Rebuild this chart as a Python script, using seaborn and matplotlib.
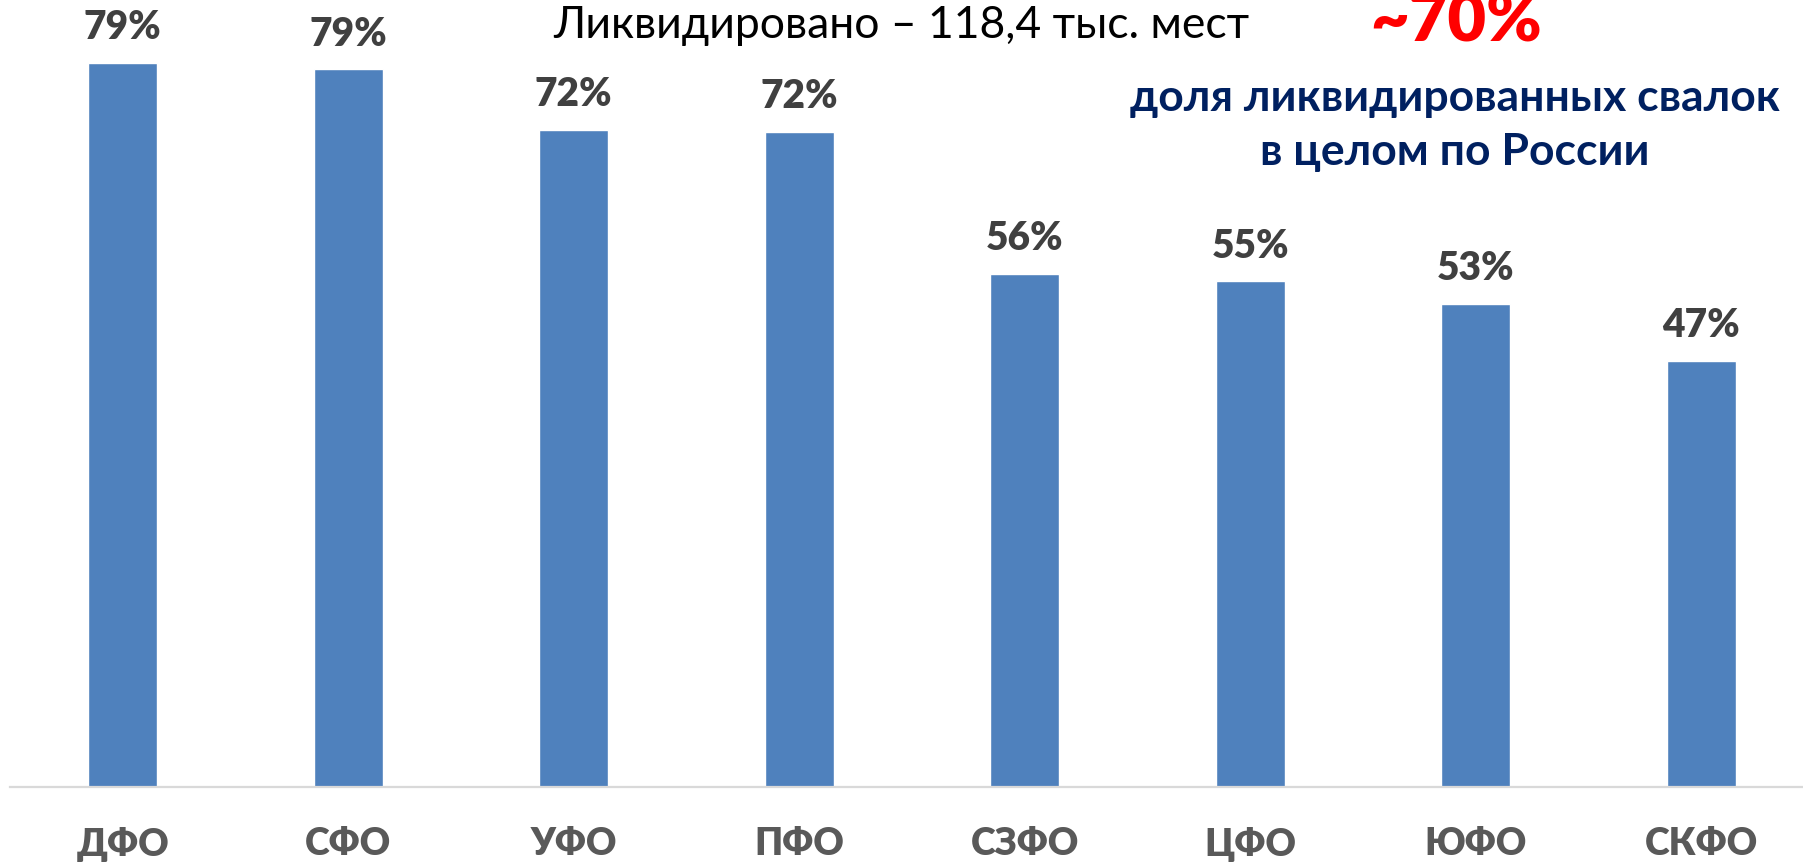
import matplotlib
matplotlib.use("Agg")
import matplotlib.pyplot as plt
import seaborn as sns
import pandas as pd

# данные (доля ликвидированных свалок по федеральным округам)
regions = ["ДФО", "СФО", "УФО", "ПФО", "СЗФО", "ЦФО", "ЮФО", "СКФО"]
shares = [79.3, 78.6, 72.0, 71.8, 56.2, 55.4, 52.9, 46.7]
share_labels = ["79%", "79%", "72%", "72%", "56%", "55%", "53%", "47%"]

title_text = "Ликвидировано – 118,4 тыс. мест"
total_text = "~70%"
note_lines = ["доля ликвидированных свалок", "в целом по России"]

sns.set_style("white")
plt.rcParams['font.family'] = ['Lato', 'DejaVu Sans']

df = pd.DataFrame({"region": regions, "share": shares})

fig = plt.figure(figsize=(18.03, 8.63), dpi=100)
ax = fig.add_axes([10 / 1803, 76 / 863, 1804 / 1803, 776 / 863])

sns.barplot(data=df, x="region", y="share", color="#4f81bd", saturation=1,
            width=0.306, ax=ax)
ax.set_ylim(0, 85)
ax.set_xlim(-0.5, 7.5)

ax.bar_label(ax.containers[0], labels=share_labels, padding=12,
             fontsize=28, fontweight="heavy", color="#404040")

# оси
for s in ["top", "right", "left"]:
    ax.spines[s].set_visible(False)
ax.spines["bottom"].set_color("#d9d9d9")
ax.spines["bottom"].set_linewidth(1.6)
ax.set_yticks([])
ax.set_xlabel("")
ax.set_ylabel("")
ax.tick_params(axis="x", length=0, pad=29, labelsize=27, labelcolor="#595959")
for t in ax.get_xticklabels():
    t.set_fontweight("heavy")

# подписи сверху (красная цифра в оригинале срезана верхним краем)
fig.text(0.4997, 0.971, title_text, ha="center", va="center",
         fontsize=32, color="black")
fig.text(0.8075, 0.952, total_text, ha="center", va="baseline",
         fontsize=48, fontweight="heavy", color="#ff0000")
fig.text(0.807, 0.8864, note_lines[0], ha="center", va="center",
         fontsize=32, fontweight="bold", color="#002060")
fig.text(0.807, 0.8239, note_lines[1], ha="center", va="center",
         fontsize=32, fontweight="bold", color="#002060")

plt.savefig("out.png", dpi=100)
